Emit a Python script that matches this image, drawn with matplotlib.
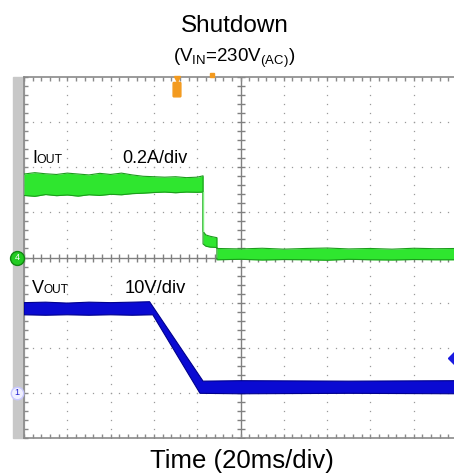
import matplotlib.pyplot as plt
import matplotlib.patches as mpatches
import numpy as np

plt.rcParams['font.family'] = ['Liberation Sans', 'DejaVu Sans']
plt.rcParams['mathtext.fontset'] = 'custom'
plt.rcParams['mathtext.rm'] = 'Liberation Sans'

# scope settings (divisions)
MS_PER_DIV = 20
I_PER_DIV, I_ZERO = 0.2, 4      # A/div, zero line (div from bottom)
V_PER_DIV, V_ZERO = 10, 1       # V/div

# output current envelope (A) vs time (ms)
cur_t = [0, 5, 10, 15, 20, 25, 30, 35, 40, 45, 50, 55, 60, 65, 70, 75, 80, 82.7,
         82.7, 84, 86, 88, 89.1,
         89.1, 100, 110, 120, 130, 140, 150, 160, 170, 180, 190, 200]
cur_hi = [0.37, 0.376, 0.371, 0.368, 0.374, 0.37, 0.366, 0.373, 0.368, 0.374, 0.366, 0.36, 0.358, 0.356, 0.358, 0.354, 0.356, 0.362,
          0.116, 0.1, 0.094, 0.09, 0.088,
          0.04, 0.038, 0.041, 0.037, 0.04, 0.042, 0.038, 0.04, 0.037, 0.041, 0.039, 0.04]
cur_lo = [0.275, 0.271, 0.279, 0.274, 0.277, 0.272, 0.278, 0.275, 0.28, 0.278, 0.283, 0.285, 0.288, 0.29, 0.287, 0.29, 0.289, 0.29,
          0.06, 0.05, 0.046, 0.045, 0.044,
          -0.01, -0.008, -0.011, -0.009, -0.01, -0.012, -0.008, -0.01, -0.011, -0.009, -0.01, -0.01]

# output voltage envelope (V) vs time (ms)
vup_t = [0, 10, 20, 30, 40, 50, 58, 82.7, 100, 150, 200]
vup = [20.0, 20.1, 19.9, 20.1, 20.0, 20.1, 20.2, 2.6, 2.7, 2.6, 2.7]
vlo_t = [0, 10, 20, 30, 40, 50, 59.5, 81.3, 100, 150, 200]
vlo = [17.3, 17.2, 17.3, 17.2, 17.3, 17.2, 17.3, -0.1, -0.2, -0.1, -0.2]

title = 'Shutdown'
subtitle = r'(V$_{\mathrm{IN}}$=230V$_{\mathrm{(AC)}}$)'
xlabel = 'Time (20ms/div)'

W, H = 454, 474
fig = plt.figure(figsize=(W / 100, H / 100), dpi=100)
ax = fig.add_axes([24 / W, 1 - 438 / H, 433 / W, 361 / H])
ax.set_xlim(0, 10)
ax.set_ylim(0, 8)
ax.axis('off')

def fx(px):
    return px / W

def fy(py):
    return 1 - py / H

# left grey strip
fig.patches.append(mpatches.Rectangle((fx(13), fy(438)), 11 / W, 361 / H,
                                      transform=fig.transFigure, color='#c8c8c8', zorder=-1))

grid_c = '#9a9a9a'
minor = np.arange(0, 10.01, 0.2)
minor_y = np.arange(0, 8.01, 0.2)
for gx in [1, 2, 3, 4, 6, 7, 8, 9]:
    ax.plot(np.full_like(minor_y, gx), minor_y, ls='none', marker='s', ms=0.9, color=grid_c, mew=0)
for gy in [1, 2, 3, 5, 6, 7]:
    ax.plot(minor, np.full_like(minor, gy), ls='none', marker='s', ms=0.9, color=grid_c, mew=0)

# centre axes with ticks
ax.axvline(5, color='#808080', lw=1)
ax.axhline(4, color='#808080', lw=1)
ax.plot(np.full_like(minor_y, 5), minor_y, ls='none', marker='_', ms=6, color='#808080', mew=1)
ax.plot(minor, np.full_like(minor, 4), ls='none', marker='|', ms=6, color='#808080', mew=1)

# frame
for s in [(0, 0, 0, 8), (0, 10, 8, 8), (0, 10, 0, 0)]:
    ax.plot(s[:2], s[2:], color='#8a8a8a', lw=1.2, clip_on=False)
ax.plot(minor, np.full_like(minor, 8), ls='none', marker=3, ms=3, color='#8a8a8a', clip_on=False)
ax.plot(minor, np.full_like(minor, 0), ls='none', marker=2, ms=3, color='#8a8a8a', clip_on=False)
ax.plot(np.zeros_like(minor_y), minor_y, ls='none', marker=1, ms=3, color='#8a8a8a', clip_on=False)

# current trace
ct = np.array(cur_t) / MS_PER_DIV
chi = I_ZERO + np.array(cur_hi) / I_PER_DIV
clo = I_ZERO + np.array(cur_lo) / I_PER_DIV
ax.fill_between(ct, clo, chi, color='#2fe62f', lw=0, zorder=3)
ax.plot(ct, chi, color='#1c9c1c', lw=0.8, zorder=4)
ax.plot(ct, clo, color='#1c9c1c', lw=0.8, zorder=4)
ax.plot([82.7 / MS_PER_DIV] * 2, [clo[17], chi[18]], color='#7cf07c', lw=1, zorder=4)

# voltage trace
vt = np.r_[np.array(vup_t), np.array(vlo_t)[::-1]] / MS_PER_DIV
vv = V_ZERO + np.r_[np.array(vup), np.array(vlo)[::-1]] / V_PER_DIV
ax.fill(vt, vv, color='#0a0ad2', lw=0.8, ec='#00008c', zorder=3)

# channel markers
ax.plot(-3.2 / MS_PER_DIV, I_ZERO, marker='o', ms=10, color='#22cc22', mec='#118811', clip_on=False, zorder=5)
ax.text(-3.2 / MS_PER_DIV, I_ZERO, '4', color='white', fontsize=6.5, ha='center', va='center', zorder=6)
ax.plot(-3.2 / MS_PER_DIV, V_ZERO, marker='o', ms=9, color='#f0f0ff', mec='#c8c8ff', clip_on=False, zorder=5)
ax.text(-3.2 / MS_PER_DIV, V_ZERO, '1', color='#2020d0', fontsize=6.5, ha='center', va='center', zorder=6)
ax.plot(198.5 / MS_PER_DIV, (438 - 358) / 45, marker='D', ms=6, color='#1a1ae0', clip_on=False, zorder=5)

# trigger marker
tx = (177 - 24) / 43.3
ax.add_patch(mpatches.FancyBboxPatch((tx - 0.07, 7.58), 0.14, 0.28, boxstyle='round,pad=0.02',
                                     color='#f39a1e', zorder=5))
ax.plot(tx, 7.95, marker='v', ms=5, color='#f39a1e', zorder=5, clip_on=False)
ax.plot((212 - 24) / 43.3, 8.05, marker='s', ms=3, color='#f39a1e', zorder=5, clip_on=False)

# labels
fig.text(fx(234.5), fy(32), title, fontsize=17.5, ha='center', va='baseline')
fig.text(fx(234.5), fy(62), subtitle, fontsize=13.5, ha='center', va='baseline')
fig.text(fx(241.5), fy(468), xlabel, fontsize=18.5, ha='center', va='baseline')

fig.text(fx(32), fy(163), 'I', fontsize=13, va='baseline')
fig.text(fx(36), fy(163), 'OUT', fontsize=8.8, va='baseline')
fig.text(fx(122), fy(163), '0.2A/div', fontsize=13, va='baseline')
fig.text(fx(32), fy(293), 'V', fontsize=13, va='baseline')
fig.text(fx(43.5), fy(293), 'OUT', fontsize=8.6, va='baseline')
fig.text(fx(125), fy(293), '10V/div', fontsize=13.2, va='baseline')

fig.savefig('out.png', dpi=100)
